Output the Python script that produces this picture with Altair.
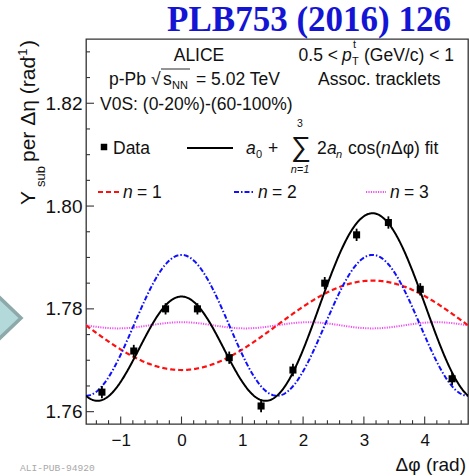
import math
import altair as alt
import pandas as pd

# ---- data -------------------------------------------------------------
# centres of the delta-phi bins (rad)
dphi = [-1.309, -0.785, -0.262, 0.262, 0.785, 1.309,
        1.833, 2.356, 2.880, 3.403, 3.927, 4.451]
# subtracted per-trigger yield, Y_sub per delta-eta (rad^-1)
y_sub = [1.7638, 1.7718, 1.7800, 1.7800, 1.7705, 1.7611,
         1.7681, 1.7850, 1.7944, 1.7968, 1.7838, 1.7664]
y_err = [0.0012, 0.0012, 0.0011, 0.0011, 0.0012, 0.0012,
         0.0012, 0.0012, 0.0012, 0.0012, 0.0012, 0.0012]

# Fourier fit a0 + sum_n 2 a_n cos(n dphi)
fit_a = [1.7768, -0.00435, 0.00685, 0.0003]

x_major = [-1, 0, 1, 2, 3, 4]
x_minor = [-1.4, -1.2, -0.8, -0.6, -0.4, -0.2, 0.2, 0.4, 0.6, 0.8,
           1.2, 1.4, 1.6, 1.8, 2.2, 2.4, 2.6, 2.8, 3.2, 3.4, 3.6, 3.8,
           4.2, 4.4, 4.6]
y_major = [1.76, 1.78, 1.80, 1.82]
y_minor = [1.765, 1.77, 1.775, 1.785, 1.79, 1.795, 1.805, 1.81, 1.815,
           1.825, 1.83]

# ---- layout / style ---------------------------------------------------
LEFT, TOP, W, H = 86, 39, 382, 385
SANS = "Liberation Sans"
INK = "#111111"
FRAME = "#333333"

xs = alt.Scale(domain=[-math.pi / 2, 3 * math.pi / 2], nice=False, zero=False)
ys = alt.Scale(domain=[1.7576, 1.8325], nice=False, zero=False)
x_axis = alt.Axis(values=x_major, ticks=False, tickSize=0, domain=False, grid=False,
                  labelFont=SANS, labelFontSize=17, labelColor=INK, labelPadding=8,
                  format="d", title=None)
y_axis = alt.Axis(values=y_major, ticks=False, tickSize=0, domain=False, grid=False,
                  labelFont=SANS, labelFontSize=19, labelColor=INK, labelPadding=4,
                  format=".2f", title=None)


def X(field):
    return alt.X(field, type="quantitative", scale=xs, axis=x_axis)


def Y(field):
    return alt.Y(field, type="quantitative", scale=ys, axis=y_axis)


def label(text, x, y, size=17.5, align="left", **kw):
    """Text placed in page pixels (x, y = anchor/baseline)."""
    opts = dict(align=align, baseline="alphabetic", fontSize=size, font=SANS, color=INK)
    opts.update(kw)
    return alt.Chart(alt.Data(values=[{"t": text}])).mark_text(**opts).encode(
        text="t:N", x=alt.value(x - LEFT), y=alt.value(y - TOP))


def seg(x1, x2, y, **kw):
    return alt.Chart(alt.Data(values=[{}])).mark_rule(**kw).encode(
        x=alt.value(x1 - LEFT), x2=alt.value(x2 - LEFT), y=alt.value(y - TOP))


# ---- curves -----------------------------------------------------------
a0, a1, a2, a3 = fit_a
grid = alt.Chart(alt.sequence(start=-math.pi / 2, stop=3 * math.pi / 2 + 0.01,
                              step=0.01, as_="x"))
curves = grid.transform_calculate(
    fit=f"{a0} + 2*({a1})*cos(datum.x) + 2*({a2})*cos(2*datum.x) + 2*({a3})*cos(3*datum.x)",
    n1=f"{a0} + 2*({a1})*cos(datum.x)",
    n2=f"{a0} + 2*({a2})*cos(2*datum.x)",
    n3=f"{a0} + 2*({a3})*cos(3*datum.x)",
)

RED, BLUE, PINK = "#ff1010", "#1010ff", "#f050f0"
DASH_RED = [5, 3]
DASH_BLUE = [5, 2, 1.5, 2]
DASH_PINK = [1.2, 1.2]

line_n3 = curves.mark_line(color=PINK, strokeWidth=2, strokeDash=DASH_PINK, clip=True).encode(x=X("x"), y=Y("n3"))
line_n1 = curves.mark_line(color=RED, strokeWidth=2.2, strokeDash=DASH_RED, clip=True).encode(x=X("x"), y=Y("n1"))
line_n2 = curves.mark_line(color=BLUE, strokeWidth=2, strokeDash=DASH_BLUE, clip=True).encode(x=X("x"), y=Y("n2"))
line_fit = curves.mark_line(color="#000000", strokeWidth=2, clip=True).encode(x=X("x"), y=Y("fit"))

# ---- data points ------------------------------------------------------
pts = pd.DataFrame({"dphi": dphi, "y": y_sub, "err": y_err})
pts["lo"] = pts["y"] - pts["err"]
pts["hi"] = pts["y"] + pts["err"]
base = alt.Chart(pts)
err_bars = base.mark_rule(color="#000000", strokeWidth=1.8).encode(x=X("dphi"), y=Y("lo"), y2="hi")
markers = base.mark_square(color="#000000", size=50, opacity=1).encode(x=X("dphi"), y=Y("y"))

# ---- inward ticks -----------------------------------------------------
tick_kw = dict(color=FRAME, strokeWidth=1.1)
xmaj = alt.Chart(pd.DataFrame({"v": x_major})).mark_rule(**tick_kw).encode(
    x=X("v"), y=alt.value(H), y2=alt.value(H - 7.5))
xmin = alt.Chart(pd.DataFrame({"v": x_minor})).mark_rule(**tick_kw).encode(
    x=X("v"), y=alt.value(H), y2=alt.value(H - 3.8))
ymaj = alt.Chart(pd.DataFrame({"v": y_major})).mark_rule(**tick_kw).encode(
    y=Y("v"), x=alt.value(0), x2=alt.value(8))
ymin = alt.Chart(pd.DataFrame({"v": y_minor})).mark_rule(**tick_kw).encode(
    y=Y("v"), x=alt.value(0), x2=alt.value(4))

# ---- texts ------------------------------------------------------------
texts = [
    label("PLB753 (2016) 126", 451, 31, size=35, align="right",
          font="Liberation Serif", fontWeight="bold", color="#1414d4"),
    label("ALICE", 199, 61, align="center"),
    label("0.5 <", 338, 61, align="right"),
    label("p", 342, 61, fontStyle="italic"),
    label("t", 353, 48, size=11),
    label("T", 352, 65, size=11),
    label("(GeV/c) < 1", 364, 61),
    label("p-Pb", 109, 85),
    label("\u221a", 151, 85),
    label("s", 163, 85),
    label("NN", 172, 89, size=11),
    label("= 5.02 TeV", 196, 85),
    label("Assoc. tracklets", 318, 85),
    label("V0S: (0-20%)-(60-100%)", 100, 110),
    label("Data", 113, 154),
    label("a", 246, 154, fontStyle="italic"),
    label("0", 256, 158, size=11),
    label("+", 268, 154),
    label("\u2211", 301, 156, size=28, align="center"),
    label("3", 300, 127, size=10.5, align="center"),
    label("n=1", 300, 173, size=11, align="center", fontStyle="italic"),
    label("2", 317, 154),
    label("a", 327, 154, fontStyle="italic"),
    label("n", 336, 158, size=11, fontStyle="italic"),
    label("cos(", 348, 154),
    label("n", 381, 154, fontStyle="italic"),
    label("\u0394\u03c6) fit", 391, 154),
    label("n", 123, 198, fontStyle="italic"),
    label("= 1", 137, 198),
    label("n", 258, 198, fontStyle="italic"),
    label("= 2", 272, 198),
    label("n", 390, 198, fontStyle="italic"),
    label("= 3", 404, 198),
    # axis titles
    label("\u0394\u03c6 (rad)", 466, 471, size=19, align="right"),
    label("Y", 35, 205, size=21, angle=270),
    label("sub", 45, 187, size=13, angle=270),
    label("per \u0394\u03b7 (rad", 35, 162, size=21, angle=270),
    label("-1", 27, 60, size=13, angle=270),
    label(")", 35, 47, size=21, angle=270),
    label("ALI-PUB-94920", 20, 471, size=9.6, font="Liberation Mono", color="#a8a8a8"),
]

legend_marks = [
    alt.Chart(alt.Data(values=[{}])).mark_square(color="#000000", size=42, opacity=1).encode(
        x=alt.value(104 - LEFT), y=alt.value(147 - TOP)),
    seg(187, 233, 148, color="#000000", strokeWidth=2),
    seg(98, 120, 192, color=RED, strokeWidth=2.2, strokeDash=DASH_RED),
    seg(234, 253, 192, color=BLUE, strokeWidth=2, strokeDash=DASH_BLUE),
    seg(366, 386, 192, color=PINK, strokeWidth=2, strokeDash=DASH_PINK),
    # bar over s_NN
    seg(161, 190, 69, color=INK, strokeWidth=0.9),
]

# slide arrow at the left edge
arrow = alt.Chart(alt.Data(values=[{}])).mark_point(
    shape="M21,0L-40,-58L-40,58Z", size=4, filled=True, fill="#b3d9db",
    stroke="#8ea9aa", strokeWidth=3.5, opacity=1, fillOpacity=1,
).encode(x=alt.value(0 - LEFT), y=alt.value(318 - TOP))

chart = alt.layer(
    xmin, xmaj, ymin, ymaj,
    line_n3, line_n1, line_n2, line_fit,
    err_bars, markers,
    *legend_marks, *texts, arrow,
).properties(
    width=W, height=H,
    autosize=alt.AutoSizeParams(type="none"),
    padding={"left": LEFT, "top": TOP, "right": 469 - LEFT - W, "bottom": 476 - TOP - H},
    background="white",
).configure_view(stroke=FRAME, strokeWidth=1.3)

chart.save("out.html", embed_options={"renderer": "svg", "actions": False})
